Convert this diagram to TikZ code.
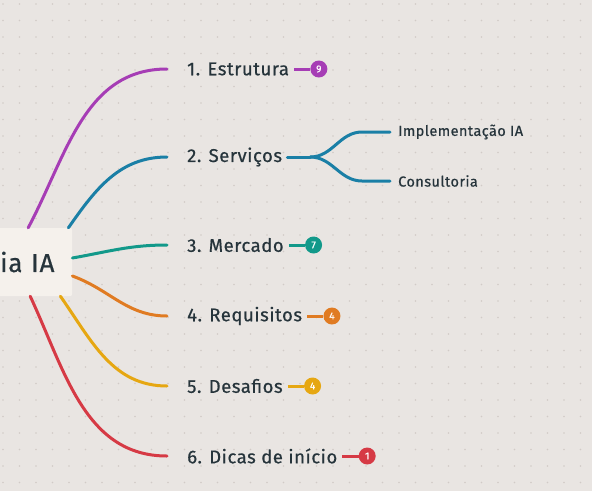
\documentclass[tikz,border=0pt]{standalone}
\usepackage{fontspec}
\setmainfont{Fira Sans}[UprightFeatures={FakeBold=0.6},LetterSpace=3]
\usepackage{xcolor}
\usetikzlibrary{positioning,calc}
\definecolor{bgc}{HTML}{E9E5E2}
\definecolor{dotc}{HTML}{D1CBC7}
\definecolor{boxc}{HTML}{F5F1EC}
\definecolor{txtc}{HTML}{26343B}
\definecolor{cpurple}{HTML}{A63DB5}
\definecolor{cblue}{HTML}{1A7FA6}
\definecolor{cteal}{HTML}{12998A}
\definecolor{corange}{HTML}{E07B22}
\definecolor{cyellow}{HTML}{E6A712}
\definecolor{cred}{HTML}{D63A45}

\begin{document}
\begin{tikzpicture}[x=1pt,y=-1pt,
  rootbox/.style={fill=boxc,rounded corners=2pt,text=txtc,font=\fontsize{26}{30}\selectfont,
    text width=62pt,inner xsep=10pt,minimum height=68pt,align=left},
  topic/.style={text=txtc,font=\fontsize{18.5}{22}\selectfont,inner xsep=0pt,inner ysep=2pt},
  subtopic/.style={text=txtc,font=\fontsize{14.5}{17}\selectfont,inner xsep=0pt,inner ysep=2pt},
  branch/.style={line width=3pt,line cap=round},
  badge/.style={circle,fill=#1,text=white,inner sep=0pt,minimum size=17pt,font=\fontsize{10}{11}\selectfont}]
\fill[bgc] (0,0) rectangle (592,491);
\useasboundingbox (0,0) rectangle (592,491);
% dot grid
\foreach \i in {0,...,36}{
  \foreach \j in {0,...,30}{
    \fill[dotc] (3+16.5*\i,4+16.5*\j) circle (0.9);
  }
}
% root
\node[rootbox,anchor=west] (root) at (-10,262) {ia IA};
% topics
\node[topic,anchor=west] (t1) at (187,69) {1. Estrutura};
\node[topic,anchor=west] (t2) at (187,157) {2. Serviços};
\node[topic,anchor=west] (t3) at (187,245) {3. Mercado};
\node[topic,anchor=west] (t4) at (187,316) {4. Requisitos};
\node[topic,anchor=west] (t5) at (187,386) {5. Desafios};
\node[topic,anchor=west] (t6) at (187,456) {6. Dicas de início};
% subtopics
\node[subtopic,anchor=west] (s1) at (398,132) {Implementação IA};
\node[subtopic,anchor=west] (s2) at (398,181) {Consultoria};
% badges
\node[badge=cpurple,right=21pt of t1] (n1) {9};
\node[badge=cteal,right=21pt of t3] (n3) {7};
\node[badge=corange,right=21pt of t4] (n4) {4};
\node[badge=cyellow,right=21pt of t5] (n5) {4};
\node[badge=cred,right=21pt of t6] (n6) {1};
% branches
\draw[branch,cpurple] ([xshift=-3pt]root.north) to[out=62,in=180] ([xshift=-20pt]t1.west);
\draw[branch,cblue] ([xshift=-4pt]root.north east) to[out=55,in=180] ([xshift=-20pt]t2.west);
\draw[branch,cteal] ([yshift=4pt]root.east) to[out=10,in=180] ([xshift=-20pt]t3.west);
\draw[branch,corange] ([yshift=-14pt]root.east) to[out=-20,in=180] ([xshift=-20pt]t4.west);
\draw[branch,cyellow] ([xshift=-12pt]root.south east) to[out=-55,in=180] ([xshift=-20pt]t5.west);
\draw[branch,cred] ([xshift=-1pt]root.south) to[out=-65,in=180] ([xshift=-20pt]t6.west);
% sub branches
\coordinate (fork) at ($(t2.east)+(28pt,0)$);
\draw[branch,cblue] ([xshift=5pt]t2.east) -- (fork);
\draw[branch,cblue] (fork) to[out=0,in=180] ([xshift=-36pt]s1.west) -- ([xshift=-8pt]s1.west);
\draw[branch,cblue] (fork) to[out=0,in=180] ([xshift=-36pt]s2.west) -- ([xshift=-8pt]s2.west);
% badge links
\foreach \t/\n/\c in {t1/n1/cpurple,t3/n3/cteal,t4/n4/corange,t5/n5/cyellow,t6/n6/cred}{
  \draw[line width=3pt,\c] ([xshift=5pt]\t.east) -- (\n);
}
\end{tikzpicture}
\end{document}
